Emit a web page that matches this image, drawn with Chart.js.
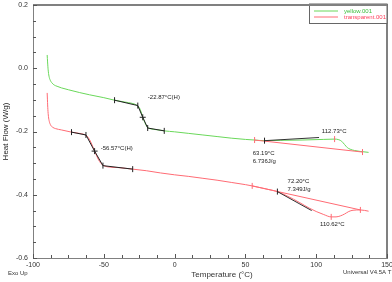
<!DOCTYPE html>
<html>
<head>
<meta charset="utf-8">
<script src="https://cdn.jsdelivr.net/npm/chart.js@4.4.1/dist/chart.umd.min.js"></script>
<style>
  body { margin: 0; background: #fff; }
  #dsc { display: block; }
</style>
</head>
<body>
<canvas id="dsc" width="392" height="282"></canvas>
<script>
// DSC curves (temperature in °C, heat flow in W/g)
const yellowT = [-90, -89.7, -89.3, -88.7, -87.8, -86.5, -85, -83, -80, -75, -67, -60, -50, -42.4, -35, -30, -27, -25, -23.8, -22.5, -21, -19.5, -18, -15, -10, -7.3, 0, 10, 20, 30, 40, 50, 56.5, 63.5, 75, 90, 105, 113, 116, 118, 120, 122, 124, 127, 131, 137];
const yellowHF = [0.042, 0.02, -0.005, -0.025, -0.038, -0.047, -0.053, -0.057, -0.062, -0.068, -0.077, -0.084, -0.093, -0.101, -0.107, -0.111, -0.116, -0.124, -0.136, -0.155, -0.172, -0.185, -0.19, -0.193, -0.196, -0.198, -0.201, -0.206, -0.211, -0.216, -0.221, -0.225, -0.227, -0.229, -0.228, -0.227, -0.225, -0.224, -0.226, -0.231, -0.241, -0.251, -0.256, -0.26, -0.263, -0.266];

const transT = [-90, -89.8, -89.5, -89.1, -88.5, -87.5, -86, -84, -80, -72.8, -66, -63, -61, -59, -56.5, -54, -52, -50, -47, -40, -29.6, -20, -10, 0, 10, 20, 30, 40, 50, 54.8, 60, 66, 72.6, 80, 88, 95, 100, 105, 110.6, 114, 117, 120, 123, 126, 131.2, 137];
const transHF = [-0.078, -0.1, -0.13, -0.152, -0.168, -0.18, -0.187, -0.191, -0.195, -0.202, -0.207, -0.211, -0.219, -0.235, -0.262, -0.287, -0.301, -0.308, -0.312, -0.314, -0.319, -0.324, -0.331, -0.337, -0.342, -0.348, -0.354, -0.361, -0.368, -0.372, -0.377, -0.383, -0.39, -0.405, -0.424, -0.442, -0.453, -0.462, -0.47, -0.47, -0.467, -0.461, -0.453, -0.449, -0.448, -0.452];

// analysis constructions
const yellowTgT = [-42.4, -26, -22.5, -19, -7.3];
const yellowTgHF = [-0.101, -0.118, -0.155, -0.189, -0.198];
const transTgT = [-72.8, -62.6, -56.5, -50.6, -29.6];
const transTgHF = [-0.202, -0.211, -0.262, -0.308, -0.319];
const yellowOnsetT = [63.5, 102];
const yellowOnsetHF = [-0.229, -0.219];
const transOnsetT = [72.6, 96.8];
const transOnsetHF = [-0.39, -0.45];
const yellowBaseT = [56.5, 132.7];
const yellowBaseHF = [-0.227, -0.265];
const transBaseT = [54.8, 131.2];
const transBaseHF = [-0.372, -0.448];

const blackTickT = [-42.4, -26, -19, -7.3, -72.8, -62.6, -50.6, -29.6, 63.5, 72.6];
const blackTickHF = [-0.101, -0.118, -0.189, -0.198, -0.202, -0.211, -0.308, -0.319, -0.229, -0.39];
const crossT = [-22.5, -56.5];
const crossHF = [-0.155, -0.262];
const redTickT = [56.5, 132.7, 113, 54.8, 131.2, 110.6];
const redTickHF = [-0.227, -0.265, -0.224, -0.372, -0.448, -0.47];

const noteText = ['-22.87°C(H)', '-56.57°C(H)', '112.73°C', '63.19°C', '6.736J/g', '72.20°C', '7.349J/g', '110.62°C'];
const noteT = [-18.9, -52.2, 104, 55.2, 55.2, 79.8, 79.8, 102.7];
const noteHF = [-0.0935, -0.253, -0.2006, -0.268, -0.293, -0.359, -0.384, -0.494];

const xTicksMinor = [-87.5, -75, -62.5, -37.5, -25, -12.5, 12.5, 25, 37.5, 62.5, 75, 87.5, 112.5, 125, 137.5];
const xTicksMajor = [-100, -50, 0, 50, 100, 150];
const yTicksMinor = [0.15, 0.1, 0.05, -0.05, -0.1, -0.15, -0.25, -0.3, -0.35, -0.45, -0.5, -0.55];
const yTicksMajor = [0.2, 0, -0.2, -0.4, -0.6];

const seriesNames = ['yellow.001', 'transparent.001'];
const GREEN = '#6ad85a';
const RED = '#ff6b74';

function pts(xs, ys) {
  return xs.map((x, i) => ({ x: x, y: ys[i] }));
}

function lineSet(xs, ys, color, order) {
  return {
    data: pts(xs, ys),
    showLine: true,
    borderColor: color,
    borderWidth: 1,
    pointRadius: 0,
    order: order,
  };
}

function markSet(xs, ys, color, style, order) {
  return {
    data: pts(xs, ys),
    showLine: false,
    pointStyle: style,
    rotation: style === 'line' ? 90 : 0,
    pointRadius: 3,
    pointBorderColor: color,
    pointBorderWidth: 1,
    order: order,
  };
}

const yellowSet = lineSet(yellowT, yellowHF, GREEN, 6);
yellowSet.cubicInterpolationMode = 'monotone';
const transSet = lineSet(transT, transHF, RED, 6);
transSet.cubicInterpolationMode = 'monotone';

const datasets = [
  markSet(blackTickT, blackTickHF, '#222', 'line', 0),
  markSet(crossT, crossHF, '#222', 'cross', 0),
  markSet(redTickT, redTickHF, RED, 'line', 0),
  lineSet(yellowTgT, yellowTgHF, '#222', 1),
  lineSet(transTgT, transTgHF, '#222', 1),
  lineSet(yellowOnsetT, yellowOnsetHF, '#333', 1),
  lineSet(transOnsetT, transOnsetHF, '#333', 1),
  lineSet(yellowBaseT, yellowBaseHF, RED, 3),
  lineSet(transBaseT, transBaseHF, RED, 3),
  yellowSet,
  transSet,
];

// frame, inward ticks, notes and the boxed legend
const decor = {
  id: 'decor',
  afterDraw(chart) {
    const { ctx, chartArea: a } = chart;
    const x = chart.scales.x;
    const y = chart.scales.y;
    ctx.save();

    ctx.strokeStyle = '#808080';
    ctx.lineWidth = 2;
    ctx.beginPath();
    ctx.moveTo(a.left, a.top);
    ctx.lineTo(a.right, a.top);
    ctx.lineTo(a.right, a.bottom);
    ctx.stroke();

    ctx.strokeStyle = '#555';
    ctx.lineWidth = 1;
    ctx.beginPath();
    xTicksMajor.concat(xTicksMinor).forEach((v) => {
      const px = Math.round(x.getPixelForValue(v)) + 0.5;
      const len = xTicksMajor.includes(v) ? 4 : 3;
      ctx.moveTo(px, a.bottom);
      ctx.lineTo(px, a.bottom - len);
    });
    yTicksMajor.concat(yTicksMinor).forEach((v) => {
      const py = Math.round(y.getPixelForValue(v)) + 0.5;
      const len = yTicksMajor.includes(v) ? 4 : 3;
      ctx.moveTo(a.left, py);
      ctx.lineTo(a.left + len, py);
    });
    ctx.stroke();

    ctx.fillStyle = '#222';
    ctx.textBaseline = 'middle';
    ctx.textAlign = 'left';
    ctx.font = "6px 'Liberation Sans', Arial, sans-serif";
    noteText.forEach((t, i) => {
      ctx.fillText(t, x.getPixelForValue(noteT[i]), y.getPixelForValue(noteHF[i]));
    });

    ctx.fillStyle = '#333';
    ctx.fillText('Exo Up', 8, 273);
    ctx.fillText('Universal V4.5A T', 343, 272);
    ctx.font = "8px 'Liberation Sans', Arial, sans-serif";
    ctx.textAlign = 'center';
    ctx.fillText('Temperature (°C)', 222, 275);

    // legend box in the top right corner
    ctx.fillStyle = '#fff';
    ctx.fillRect(309.5, 4, a.right - 309.5, 19.5);
    ctx.strokeStyle = '#666';
    ctx.lineWidth = 1;
    ctx.strokeRect(309.5, 4, a.right - 309.5, 19.5);
    ctx.strokeStyle = '#808080';
    ctx.lineWidth = 2;
    ctx.beginPath();
    ctx.moveTo(309, a.top);
    ctx.lineTo(a.right, a.top);
    ctx.stroke();
    ctx.font = "6px 'Liberation Sans', Arial, sans-serif";
    ctx.textAlign = 'left';
    [GREEN, RED].forEach((c, i) => {
      const ly = 11 + i * 6;
      ctx.strokeStyle = c;
      ctx.lineWidth = 1;
      ctx.beginPath();
      ctx.moveTo(314, ly);
      ctx.lineTo(338, ly);
      ctx.stroke();
      ctx.fillStyle = i === 0 ? '#3cbf3c' : '#ff3d5a';
      ctx.fillText(seriesNames[i], 344, ly);
    });

    ctx.restore();
  },
};

Chart.defaults.font.family = "'Liberation Sans', Arial, sans-serif";
Chart.defaults.color = '#333';

const ctx = document.getElementById('dsc').getContext('2d');
new Chart(ctx, {
  type: 'scatter',
  data: { datasets: datasets },
  options: {
    responsive: false,
    animation: false,
    devicePixelRatio: 1,
    layout: { padding: { top: 4, right: 3, left: 0, bottom: 0 } },
    plugins: {
      legend: { display: false },
      tooltip: { enabled: false },
    },
    scales: {
      x: {
        type: 'linear',
        min: -100,
        max: 150,
        ticks: { stepSize: 50, font: { size: 7 }, padding: 3, maxRotation: 0 },
        grid: { display: true, drawOnChartArea: false, drawTicks: false },
        border: { display: true, color: '#808080', width: 1 },
        afterFit(scale) {
          scale.height = 24;
          scale.paddingLeft = 0;
          scale.paddingRight = 0;
        },
      },
      y: {
        min: -0.6,
        max: 0.2,
        ticks: {
          stepSize: 0.2,
          font: { size: 7 },
          padding: 5,
          callback: (v) => v.toFixed(1),
        },
        grid: { display: true, drawOnChartArea: false, drawTicks: false },
        border: { display: true, color: '#808080', width: 1 },
        title: {
          display: true,
          text: 'Heat Flow (W/g)',
          font: { size: 8 },
          color: '#222',
          padding: { top: 1, bottom: 0 },
        },
        afterFit(scale) {
          scale.width = 33;
          scale.paddingTop = 0;
          scale.paddingBottom = 0;
        },
      },
    },
  },
  plugins: [decor],
});
</script>
</body>
</html>
